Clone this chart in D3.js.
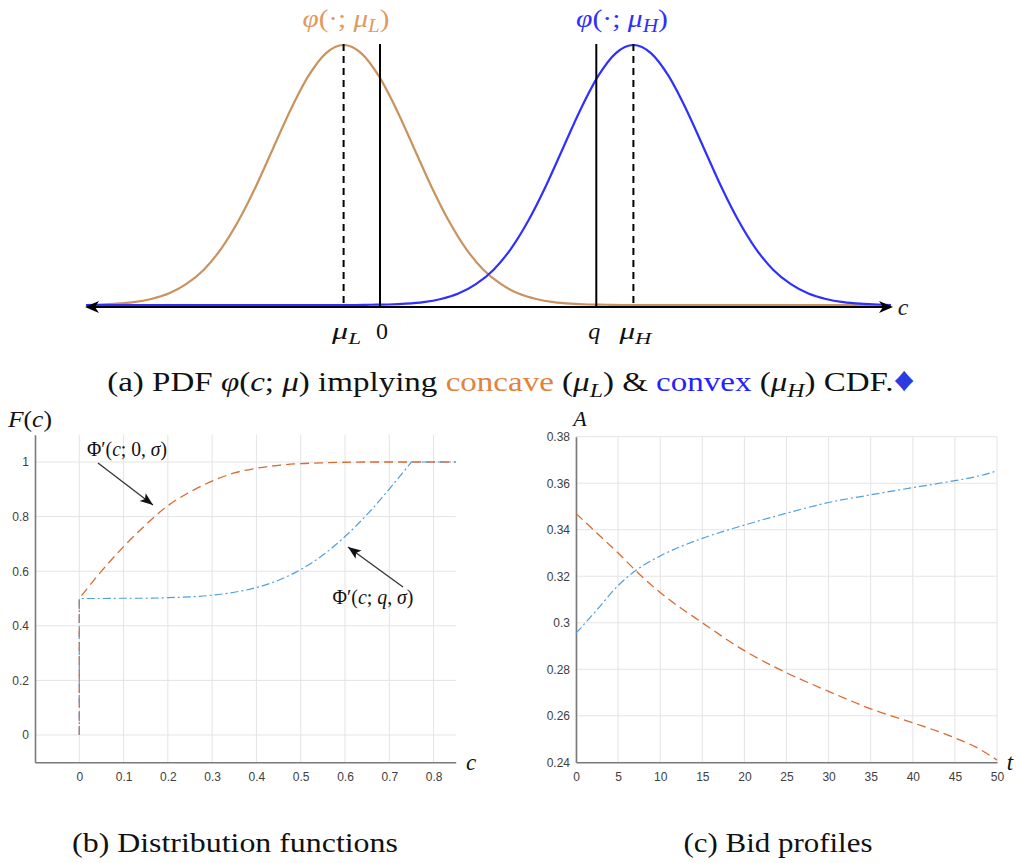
<!DOCTYPE html>
<html>
<head>
<meta charset="utf-8">
<script src="https://cdn.jsdelivr.net/npm/d3@7"></script>
<style>
  html, body { margin: 0; padding: 0; background: #fff; }
  svg { display: block; }
</style>
</head>
<body>
<svg id="fig" width="1017" height="863"></svg>
<script>
// ---------- data ----------
// (a) normalised bell shape: offsets from the mean (in sigma units) and heights
const pdfOffsets = [-4, -3.75, -3.5, -3.25, -3, -2.75, -2.5, -2.25, -2, -1.75, -1.5, -1.25, -1, -0.75, -0.5, -0.25,
                    0, 0.25, 0.5, 0.75, 1, 1.25, 1.5, 1.75, 2, 2.25, 2.5, 2.75, 3, 3.25, 3.5, 3.75, 4];
const pdfHeights = [0, 0.001, 0.002, 0.005, 0.011, 0.023, 0.044, 0.080, 0.135, 0.216, 0.325, 0.458, 0.607, 0.755, 0.882, 0.969,
                    1, 0.969, 0.882, 0.755, 0.607, 0.458, 0.325, 0.216, 0.135, 0.080, 0.044, 0.023, 0.011, 0.005, 0.002, 0.001, 0];
const cAxisRange = [-4.2, 7.3];
const muLow = -0.52, zeroMark = 0, qMark = 3.09, muHigh = 3.62;

// (b) distribution functions
const distC    = [0, 0.05, 0.1, 0.15, 0.2, 0.25, 0.3, 0.35, 0.4, 0.45, 0.5, 0.55, 0.6, 0.65, 0.7, 0.725, 0.75, 0.8, 0.85];
const concaveF = [0.50, 0.60, 0.69, 0.77, 0.84, 0.89, 0.93, 0.96, 0.977, 0.988, 0.994, 0.997, 0.999, 1, 1, 1, 1, 1, 1];
const convexF  = [0.50, 0.500, 0.501, 0.501, 0.503, 0.506, 0.512, 0.523, 0.540, 0.567, 0.606, 0.659, 0.727, 0.808, 0.901, 0.95, 1.0, 1.0, 1.0];
const distXTicks = [0, 0.1, 0.2, 0.3, 0.4, 0.5, 0.6, 0.7, 0.8];
const distYTicks = [0, 0.2, 0.4, 0.6, 0.8, 1];

// (c) bid profiles
const bidT       = [0, 1, 2.5, 5, 7.5, 10, 15, 20, 25, 30, 35, 40, 45, 47.5, 50];
const concaveBid = [0.347, 0.3436, 0.3385, 0.330, 0.321, 0.313, 0.300, 0.288, 0.2785, 0.2705, 0.263, 0.257, 0.2505, 0.2465, 0.241];
const convexBid  = [0.2955, 0.2995, 0.3056, 0.316, 0.3235, 0.3287, 0.3363, 0.342, 0.3471, 0.3517, 0.355, 0.3581, 0.3611, 0.3628, 0.3653];
const bidXTicks = [0, 5, 10, 15, 20, 25, 30, 35, 40, 45, 50];
const bidYTicks = [0.24, 0.26, 0.28, 0.3, 0.32, 0.34, 0.36, 0.38];

// ---------- styling ----------
const SERIF = "'Liberation Serif', 'DejaVu Serif', serif";
const SANS = "'Liberation Sans', Arial, sans-serif";
const tan = "#c8935f", tanLabel = "#df9a5e", blueA = "#2f2fff";
const mOrange = "#da6a2f", mBlue = "#4f9fdf";
const gridCol = "#e4e4e4", axisCol = "#7a7a7a", tickCol = "#404040";

const svg = d3.select("#fig");

// rich text helper: parts = [{t, i (italic), c (color), sub, size}]
// When a width is given, the line is stretched horizontally (about its anchor) to that width,
// which imitates the wide Computer Modern setting.
function rich(g, x, y, parts, size, width, anchor) {
  const t = g.append("text").attr("x", x).attr("y", y)
    .attr("font-family", SERIF).attr("font-size", size)
    .attr("text-anchor", anchor || "middle").attr("fill", "#111");
  let shifted = false;
  parts.forEach(p => {
    const s = t.append("tspan").text(p.t);
    if (p.i) s.attr("font-style", "italic");
    if (p.c) s.attr("fill", p.c);
    if (p.size) s.attr("font-size", p.size);
    if (p.sub && !shifted) { s.attr("dy", size * 0.22).attr("font-size", size * 0.72); shifted = true; }
    else if (p.sub) s.attr("font-size", size * 0.72);
    else if (shifted) { s.attr("dy", -size * 0.22); shifted = false; }
  });
  if (width) {
    const w = t.node().getComputedTextLength();
    const k = width / w;
    t.attr("transform", `translate(${x},0) scale(${k},1) translate(${-x},0)`);
  }
  return t;
}

// join several curve segments into a single path
function joinPaths(segments) {
  return segments.map((s, k) => {
    const d = d3.line().x(p => p[0]).y(p => p[1]).curve(s.curve)(s.pts);
    return k === 0 ? d : "L" + d.slice(1);
  }).join("");
}

// ================= (a) PDFs =================
const ga = svg.append("g");
const xa = d3.scaleLinear().domain(cAxisRange).range([86, 891]);
const ya = d3.scaleLinear().domain([0, 1]).range([305, 45]);
const axisY = 307;

function bell(mu) {
  const pts = [[cAxisRange[0], 0]];
  pdfOffsets.forEach((d, k) => {
    const c = mu + d;
    if (c > cAxisRange[0] && c < cAxisRange[1]) pts.push([c, pdfHeights[k]]);
  });
  pts.push([cAxisRange[1], 0]);
  return pts;
}
const bellLine = d3.line().x(p => xa(p[0])).y(p => ya(p[1])).curve(d3.curveMonotoneX);

ga.append("path").attr("d", bellLine(bell(muLow))).attr("fill", "none")
  .attr("stroke", tan).attr("stroke-width", 2.2);
ga.append("path").attr("d", bellLine(bell(muHigh))).attr("fill", "none")
  .attr("stroke", blueA).attr("stroke-width", 2.2);

// axis with arrow heads
ga.append("line").attr("x1", xa(cAxisRange[0]) + 4).attr("x2", xa(cAxisRange[1]) - 4)
  .attr("y1", axisY).attr("y2", axisY).attr("stroke", "#000").attr("stroke-width", 2);
const lx = xa(cAxisRange[0]) - 1, rx = xa(cAxisRange[1]) + 2;
ga.append("path").attr("d", `M${lx},${axisY}L${lx + 14},${axisY - 6}L${lx + 10},${axisY}L${lx + 14},${axisY + 6}Z`).attr("fill", "#000");
ga.append("path").attr("d", `M${rx},${axisY}L${rx - 14},${axisY - 6}L${rx - 10},${axisY}L${rx - 14},${axisY + 6}Z`).attr("fill", "#000");

// reference verticals
[[muLow, true], [zeroMark, false], [qMark, false], [muHigh, true]].forEach(([v, dashed]) => {
  ga.append("line").attr("x1", xa(v)).attr("x2", xa(v)).attr("y1", 44).attr("y2", axisY)
    .attr("stroke", "#000").attr("stroke-width", 2)
    .attr("stroke-dasharray", dashed ? "7,5" : null);
});

// labels
rich(ga, xa(muLow) + 3, 339, [{t: "μ", i: true}, {t: "L", i: true, sub: true}], 24, 29);
rich(ga, xa(zeroMark) + 2, 339, [{t: "0"}], 24, 12);
rich(ga, xa(qMark) - 2, 339, [{t: "q", i: true}], 24, 12);
rich(ga, xa(muHigh) + 2, 339, [{t: "μ", i: true}, {t: "H", i: true, sub: true}], 24, 32);
rich(ga, 903, 315, [{t: "c", i: true, c: "#223"}], 24);
rich(ga, 346, 27, [{t: "φ", i: true}, {t: "(·; "}, {t: "μ", i: true}, {t: "L", i: true, sub: true}, {t: ")"}], 25, 87).attr("fill", tanLabel);
rich(ga, 622, 27, [{t: "φ", i: true}, {t: "(·; "}, {t: "μ", i: true}, {t: "H", i: true, sub: true}, {t: ")"}], 25, 92).attr("fill", blueA);

// caption (a)
rich(ga, 511, 391, [
  {t: "(a) PDF "}, {t: "φ", i: true}, {t: "("}, {t: "c", i: true}, {t: "; "}, {t: "μ", i: true}, {t: ") implying "},
  {t: "concave", c: "#e2823c"}, {t: " ("}, {t: "μ", i: true}, {t: "L", i: true, sub: true}, {t: ") & "},
  {t: "convex", c: "#2323ff"}, {t: " ("}, {t: "μ", i: true}, {t: "H", i: true, sub: true}, {t: ") CDF."},
  {t: "♦", c: "#2b3bdf", size: 34}
], 27, 808);

// ================= shared axes helper for (b) and (c) =================
function gridPanel(g, x, y, xTicks, yTicks, xFmt, yFmt, labelGap) {
  const [x0, x1] = x.range(), [y0, y1] = y.range();
  g.append("g").selectAll("line").data(xTicks).join("line")
    .attr("x1", d => x(d)).attr("x2", d => x(d)).attr("y1", y0).attr("y2", y1)
    .attr("stroke", gridCol).attr("stroke-width", 1);
  g.append("g").selectAll("line").data(yTicks).join("line")
    .attr("x1", x0).attr("x2", x1).attr("y1", d => y(d)).attr("y2", d => y(d))
    .attr("stroke", gridCol).attr("stroke-width", 1);

  const ax = g.append("g").attr("transform", `translate(0,${y0})`)
    .call(d3.axisBottom(x).tickValues(xTicks).tickFormat(xFmt).tickSize(0).tickPadding(10));
  const ay = g.append("g").attr("transform", `translate(${x0},0)`)
    .call(d3.axisLeft(y).tickValues(yTicks).tickFormat(yFmt).tickSize(0).tickPadding(labelGap));
  [ax, ay].forEach(a => {
    a.select(".domain").attr("stroke", axisCol).attr("stroke-width", 1.6);
    a.selectAll("text").attr("font-family", SANS).attr("font-size", 12).attr("fill", tickCol);
  });
}

// ================= (b) distribution functions =================
const gb = svg.append("g");
const xb = d3.scaleLinear().domain([-0.1, 0.85]).range([35, 455.7]);
const yb = d3.scaleLinear().domain([-0.1, 1.1]).range([762.3, 434.7]);
gridPanel(gb, xb, yb, distXTicks, distYTicks, d => d3.format("")(d), d => d3.format("")(d), 6);

const concavePts = distC.map((c, k) => [xb(c), yb(concaveF[k])]);
const convexPts = distC.map((c, k) => [xb(c), yb(convexF[k])]);
const kinkIdx = distC.indexOf(0.75);

gb.append("path").attr("fill", "none").attr("stroke", mOrange).attr("stroke-width", 1.3)
  .attr("stroke-dasharray", "9,5")
  .attr("d", joinPaths([
    {pts: [[xb(0), yb(0)], concavePts[0]], curve: d3.curveLinear},
    {pts: concavePts, curve: d3.curveMonotoneX}
  ]));
gb.append("path").attr("fill", "none").attr("stroke", mBlue).attr("stroke-width", 1.2)
  .attr("stroke-dasharray", "8,3,2,3")
  .attr("d", joinPaths([
    {pts: [[xb(0), yb(0)], convexPts[0]], curve: d3.curveLinear},
    {pts: convexPts.slice(0, kinkIdx + 1), curve: d3.curveMonotoneX},
    {pts: convexPts.slice(kinkIdx), curve: d3.curveLinear}
  ]));

// annotations with arrows
function arrow(g, x1, y1, x2, y2) {
  g.append("line").attr("x1", x1).attr("y1", y1).attr("x2", x2).attr("y2", y2)
    .attr("stroke", "#333").attr("stroke-width", 1.3);
  const a = Math.atan2(y2 - y1, x2 - x1), L = 13, W = 5;
  const bx = x2 - L * Math.cos(a), by = y2 - L * Math.sin(a);
  const nx = -Math.sin(a) * W, ny = Math.cos(a) * W;
  g.append("path").attr("d", `M${x2},${y2}L${bx + nx},${by + ny}L${bx + 3 * Math.cos(a)},${by + 3 * Math.sin(a)}L${bx - nx},${by - ny}Z`)
    .attr("fill", "#111");
}
rich(gb, 127, 456, [{t: "Φ′("}, {t: "c", i: true}, {t: "; 0, "}, {t: "σ", i: true}, {t: ")"}], 20, 80);
arrow(gb, 98, 463, 153, 505);
rich(gb, 373, 604, [{t: "Φ′("}, {t: "c", i: true}, {t: "; "}, {t: "q", i: true}, {t: ", "}, {t: "σ", i: true}, {t: ")"}], 20, 81);
arrow(gb, 403, 587, 348, 547);

rich(gb, 30, 427, [{t: "F", i: true}, {t: "("}, {t: "c", i: true}, {t: ")"}], 23, 44);
rich(gb, 471, 770, [{t: "c", i: true}], 23);
rich(gb, 235, 852, [{t: "(b) Distribution functions"}], 27, 326);

// ================= (c) bid profiles =================
const gc = svg.append("g");
const xc = d3.scaleLinear().domain([0, 50]).range([576, 997]);
const yc = d3.scaleLinear().domain([0.24, 0.38]).range([762.3, 436.7]);
gridPanel(gc, xc, yc, bidXTicks, bidYTicks, d => d3.format("")(d), d => d3.format("")(+d.toFixed(2)), 6);

const bidLine = d3.line().x((t, k) => xc(t)).curve(d3.curveMonotoneX);
gc.append("path").attr("fill", "none").attr("stroke", mOrange).attr("stroke-width", 1.3)
  .attr("stroke-dasharray", "9,5")
  .attr("d", bidLine.y((t, k) => yc(concaveBid[k]))(bidT));
gc.append("path").attr("fill", "none").attr("stroke", mBlue).attr("stroke-width", 1.2)
  .attr("stroke-dasharray", "8,3,2,3")
  .attr("d", bidLine.y((t, k) => yc(convexBid[k]))(bidT));

rich(gc, 580, 426, [{t: "A", i: true}], 22);
rich(gc, 1010, 770, [{t: "t", i: true}], 23);
rich(gc, 778, 852, [{t: "(c) Bid profiles"}], 27, 189);
</script>
</body>
</html>
